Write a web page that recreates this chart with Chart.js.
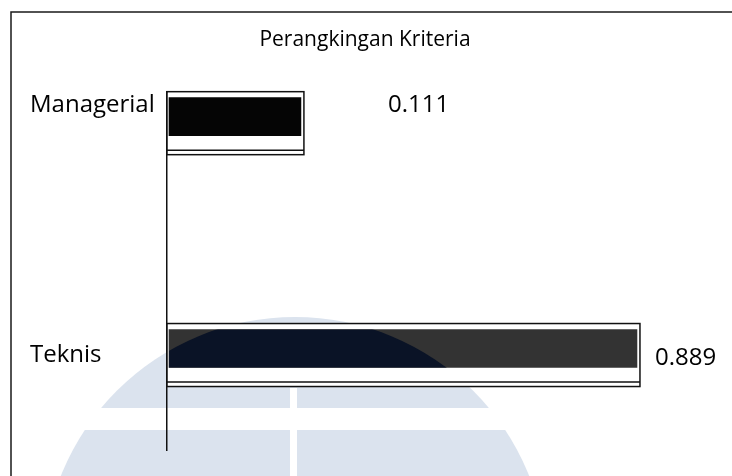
<!DOCTYPE html>
<html>
<head>
<meta charset="utf-8">
<script src="https://cdn.jsdelivr.net/npm/chart.js@4.4.0/dist/chart.umd.min.js"></script>
<style>
  html, body { margin: 0; padding: 0; background: #fff; }
  #wrap { width: 732px; height: 476px; position: relative; }
</style>
</head>
<body>
<div id="wrap"><canvas id="rankChart"></canvas></div>
<script>
// values
const categories = ['Managerial', 'Teknis'];
const weights = [0.111, 0.889];
const chartTitle = 'Perangkingan Kriteria';

// axis ranges (the bars start at the left edge of the plot, not at zero)
const xMin = -0.206;
const xMax = 1.028;
const yMin = -0.1336;
const yMax = 1.4096;

// styling
const fontName = "'Open Sans', 'Noto Sans', sans-serif";
const coreColors = ['#050505', '#333333'];
const barBorder = { top: 6, right: 3, bottom: 19, left: 2 };
const valueShift = [[84, -18], [15, 3]];
const mark = { cx: 295, cy: 569, r: 252 }; // faint watermark of the scanned page

const paperPlugin = {
    id: 'paper',
    beforeDraw(chart) {
        const ctx = chart.ctx;
        ctx.save();
        ctx.fillStyle = '#fff';
        ctx.fillRect(0, 0, chart.width, chart.height);

        ctx.fillStyle = '#dbe3ee';
        ctx.beginPath();
        ctx.arc(mark.cx, mark.cy, mark.r, 0, Math.PI * 2);
        ctx.fill();
        ctx.fillStyle = '#fff';
        ctx.fillRect(290, 388, 7, 100);
        ctx.fillRect(0, 408, chart.width, 22);

        // frame round the figure
        ctx.strokeStyle = '#1a1a1a';
        ctx.lineWidth = 1.5;
        ctx.beginPath();
        ctx.moveTo(11, chart.height);
        ctx.lineTo(11, 12);
        ctx.lineTo(chart.width, 12);
        ctx.stroke();
        ctx.restore();
    }
};

const barFramePlugin = {
    id: 'barFrame',
    afterDatasetsDraw(chart) {
        const ctx = chart.ctx;
        const meta = chart.getDatasetMeta(0);
        ctx.save();
        meta.data.forEach((bar, i) => {
            const p = bar.getProps(['x', 'y', 'base', 'height'], true);
            const left = Math.min(p.base, p.x);
            const right = Math.max(p.base, p.x);
            const top = p.y - p.height / 2;
            const bottom = p.y + p.height / 2;

            // the watermark shows navy through the dark fill
            ctx.save();
            ctx.beginPath();
            ctx.arc(mark.cx, mark.cy, mark.r, 0, Math.PI * 2);
            ctx.clip();
            ctx.fillStyle = '#0a1326';
            ctx.fillRect(left + barBorder.left, top + barBorder.top,
                right - left - barBorder.left - barBorder.right,
                bottom - top - barBorder.top - barBorder.bottom);
            ctx.restore();

            ctx.strokeStyle = '#111';
            ctx.lineWidth = 1.5;
            ctx.strokeRect(left, top, right - left, bottom - top);
            ctx.beginPath();
            ctx.moveTo(left, bottom - 4.5);
            ctx.lineTo(right, bottom - 4.5);
            ctx.stroke();

            ctx.fillStyle = '#000';
            ctx.font = '24px ' + fontName;
            ctx.textAlign = 'left';
            ctx.textBaseline = 'middle';
            ctx.fillText(weights[i].toFixed(3), p.x + valueShift[i][0], p.y + valueShift[i][1]);
        });
        ctx.restore();
    }
};

new Chart(document.getElementById('rankChart'), {
    type: 'bar',
    data: {
        datasets: [{
            data: weights.map((w, i) => ({ x: w, y: i })),
            base: xMin,
            backgroundColor: coreColors,
            borderColor: '#ffffff',
            borderWidth: barBorder,
            borderSkipped: false,
            barThickness: 63
        }]
    },
    options: {
        indexAxis: 'y',
        responsive: true,
        maintainAspectRatio: false,
        animation: false,
        layout: { padding: { left: 30, right: 32, top: 0, bottom: 26 } },
        plugins: {
            legend: { display: false },
            tooltip: { enabled: false },
            title: {
                display: true,
                text: chartTitle,
                color: '#000',
                font: { family: fontName, size: 21, weight: 'normal' },
                padding: { top: 27, bottom: 40 }
            }
        },
        scales: {
            x: { type: 'linear', display: false, min: xMin, max: xMax },
            y: {
                type: 'linear',
                reverse: true,
                offset: false,
                min: yMin,
                max: yMax,
                afterBuildTicks: (s) => { s.ticks = categories.map((c, i) => ({ value: i })); },
                afterFit: (s) => {
                    s.width = 137;
                    s.paddingTop = 0;
                    s.paddingBottom = 0;
                },
                grid: { display: false, offset: false },
                border: { display: true, color: '#111', width: 1.5 },
                ticks: {
                    crossAlign: 'far',
                    color: '#000',
                    font: { family: fontName, size: 24, lineHeight: 1.5 },
                    // first label sits high, level with the top of its bar
                    callback: (v) => v === 0 ? [categories[0], ''] : categories[v]
                }
            }
        }
    },
    plugins: [paperPlugin, barFramePlugin]
});
</script>
</body>
</html>
